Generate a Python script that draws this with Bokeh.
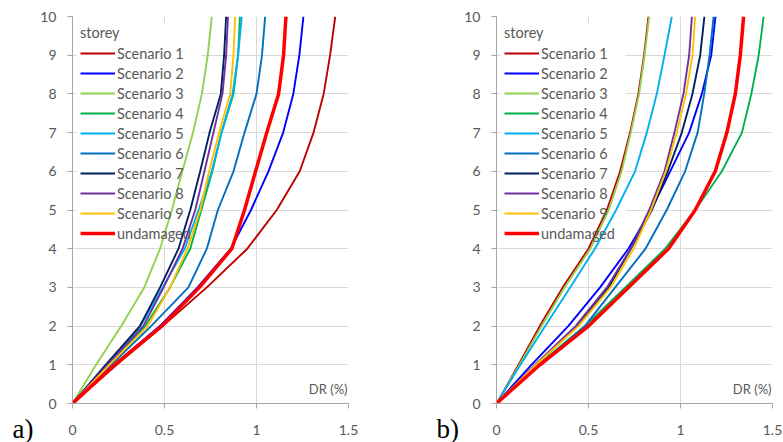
from bokeh.plotting import figure
from bokeh.layouts import row
from bokeh.models import Label, BoxAnnotation, FixedTicker
from bokeh.embed import file_html
from bokeh.resources import INLINE

# ---------------- data ----------------
storey = [0, 1, 2, 3, 4, 5, 6, 7, 8, 9, 10]
names = ["Scenario 1", "Scenario 2", "Scenario 3", "Scenario 4", "Scenario 5",
         "Scenario 6", "Scenario 7", "Scenario 8", "Scenario 9", "undamaged"]
colors = ["#C00000", "#0000FF", "#92D050", "#00B050", "#00B0F0",
          "#0070C0", "#002060", "#7030A0", "#FFC000", "#FF0000"]
x_ticks = [0, 0.5, 1, 1.5]
x_tick_labels = ["0", "0.5", "1", "1.5"]
y_ticks = [0, 1, 2, 3, 4, 5, 6, 7, 8, 9, 10]
x_title = "DR (%)"
legend_title = "storey"
panel_tags = ["a)", "b)"]

# panel a)
a_s1 = [0, 0.24, 0.49, 0.73, 0.95, 1.11, 1.235, 1.31, 1.365, 1.40, 1.428]
a_s2 = [0, 0.225, 0.475, 0.68, 0.86, 0.97, 1.065, 1.145, 1.20, 1.233, 1.255]
a_s3 = [0, 0.128, 0.265, 0.39, 0.476, 0.54, 0.597, 0.655, 0.703, 0.735, 0.757]
a_s4 = [0, 0.20, 0.395, 0.53, 0.64, 0.70, 0.76, 0.81, 0.875, 0.90, 0.91]
a_s5 = [0, 0.19, 0.37, 0.49, 0.61, 0.685, 0.757, 0.81, 0.87, 0.90, 0.92]
a_s6 = [0, 0.21, 0.427, 0.63, 0.73, 0.79, 0.875, 0.935, 1.0, 1.03, 1.047]
a_s7 = [0, 0.18, 0.366, 0.476, 0.576, 0.64, 0.694, 0.745, 0.806, 0.824, 0.835]
a_s8 = [0, 0.19, 0.385, 0.495, 0.598, 0.667, 0.717, 0.766, 0.815, 0.835, 0.845]
a_s9 = [0, 0.20, 0.408, 0.53, 0.625, 0.694, 0.743, 0.797, 0.857, 0.875, 0.884]
a_und = [0, 0.229, 0.485, 0.69, 0.866, 0.935, 0.995, 1.056, 1.12, 1.147, 1.16]

# panel b)
b_s1 = [0, 0.12, 0.235, 0.36, 0.50, 0.60, 0.672, 0.726, 0.771, 0.802, 0.826]
b_s2 = [0, 0.19, 0.39, 0.563, 0.717, 0.84, 0.944, 1.047, 1.116, 1.167, 1.19]
b_s3 = [0, 0.125, 0.245, 0.37, 0.51, 0.61, 0.68, 0.73, 0.775, 0.805, 0.83]
b_s4 = [0, 0.227, 0.48, 0.70, 0.917, 1.08, 1.225, 1.334, 1.385, 1.425, 1.452]
b_s5 = [0, 0.13, 0.265, 0.40, 0.535, 0.65, 0.753, 0.817, 0.871, 0.913, 0.953]
b_s6 = [0, 0.235, 0.48, 0.645, 0.81, 0.925, 1.025, 1.093, 1.129, 1.158, 1.18]
b_s7 = [0, 0.215, 0.44, 0.61, 0.73, 0.845, 0.931, 1.007, 1.065, 1.107, 1.13]
b_s8 = [0, 0.21, 0.43, 0.60, 0.73, 0.83, 0.913, 0.967, 1.016, 1.047, 1.062]
b_s9 = [0, 0.215, 0.445, 0.62, 0.745, 0.84, 0.92, 0.98, 1.03, 1.065, 1.08]
b_und = [0, 0.236, 0.50, 0.717, 0.935, 1.08, 1.189, 1.252, 1.298, 1.325, 1.343]

panel_a = [a_s1, a_s2, a_s3, a_s4, a_s5, a_s6, a_s7, a_s8, a_s9, a_und]
panel_b = [b_s1, b_s2, b_s3, b_s4, b_s5, b_s6, b_s7, b_s8, b_s9, b_und]

FONT = "Lato"
GRAY_TXT = "#595959"
TOP = 16
TAG_H = 442 - TOP


def make_tag(tag, width, x_pos):
    """Narrow blank figure that only carries the panel letter."""
    f = figure(title=None, frame_width=width, frame_height=TAG_H,
               min_border_left=0, min_border_right=0,
               min_border_top=TOP, min_border_bottom=0,
               x_range=(0, width), y_range=(0, TAG_H),
               x_axis_location=None, y_axis_location=None,
               output_backend="svg", toolbar_location=None)
    f.grid.visible = False
    f.outline_line_color = None
    f.add_layout(Label(x=x_pos, y=442 - 428, text=tag,
                       text_font="Liberation Serif", text_font_size="27px",
                       text_color="black", text_align="left",
                       text_baseline="middle"))
    return f


def make_panel(series, left_border, right_border):
    p = figure(title=None, frame_width=276, frame_height=387,
               min_border_left=left_border, min_border_right=right_border,
               min_border_top=TOP, min_border_bottom=39,
               x_range=(0, 1.5), y_range=(0, 10),
               output_backend="svg", toolbar_location=None)
    p.outline_line_color = None
    p.background_fill_color = "white"
    p.border_fill_color = "white"

    p.xgrid.ticker = FixedTicker(ticks=x_ticks)
    p.ygrid.ticker = FixedTicker(ticks=y_ticks)
    p.xgrid.grid_line_color = "#D9D9D9"
    p.ygrid.grid_line_color = "#D9D9D9"

    for ax in (p.xaxis[0], p.yaxis[0]):
        ax.axis_line_color = "#A6A6A6"
        ax.major_tick_line_color = "#A6A6A6"
        ax.minor_tick_line_color = None
        ax.major_tick_in = 0
        ax.major_tick_out = 5
        ax.major_label_text_font = FONT
        ax.major_label_text_font_size = "14px"
        ax.major_label_text_color = GRAY_TXT
    p.xaxis.ticker = FixedTicker(ticks=x_ticks)
    p.xaxis.major_label_overrides = {t: s for t, s in zip(x_ticks, x_tick_labels)}
    p.xaxis.major_label_standoff = 16
    p.yaxis.ticker = FixedTicker(ticks=y_ticks)
    p.yaxis.major_label_standoff = 11

    # white backdrop behind the legend (above the grid, below the curves)
    p.add_layout(BoxAnnotation(left=0.022, right=0.70, top=9.82, bottom=4.1,
                               fill_color="white", fill_alpha=1.0,
                               line_color=None, level="underlay"))

    for vals, name, col in zip(series, names, colors):
        lw = 3.5 if name == "undamaged" else 1.9
        p.line(vals, storey, line_color=col, line_width=lw, legend_label=name)

    lg = p.legend[0]
    lg.title = legend_title
    lg.title_text_font = FONT
    lg.title_text_font_size = "14.5px"
    lg.title_text_font_style = "normal"
    lg.title_text_color = GRAY_TXT
    lg.title_standoff = 2
    lg.location = "top_left"
    lg.margin = 8
    lg.padding = 0
    lg.background_fill_alpha = 0
    lg.border_line_color = None
    lg.label_text_font = FONT
    lg.label_text_font_size = "14.5px"
    lg.label_text_color = GRAY_TXT
    lg.label_height = 20
    lg.glyph_height = 20
    lg.glyph_width = 35
    lg.label_standoff = 2
    lg.spacing = 0

    p.add_layout(Label(x=1.495, y=0.37, text=x_title, text_font=FONT,
                       text_font_size="13px", text_color=GRAY_TXT,
                       text_align="right", text_baseline="middle"))
    return p


ta = make_tag(panel_tags[0], 37, 12)
pa = make_panel(panel_a, 34, 44)
tb = make_tag(panel_tags[1], 68, 44)
pb = make_panel(panel_b, 36, 12)

layout = row(ta, pa, tb, pb)
open("out.html", "w").write(file_html(layout, INLINE))
